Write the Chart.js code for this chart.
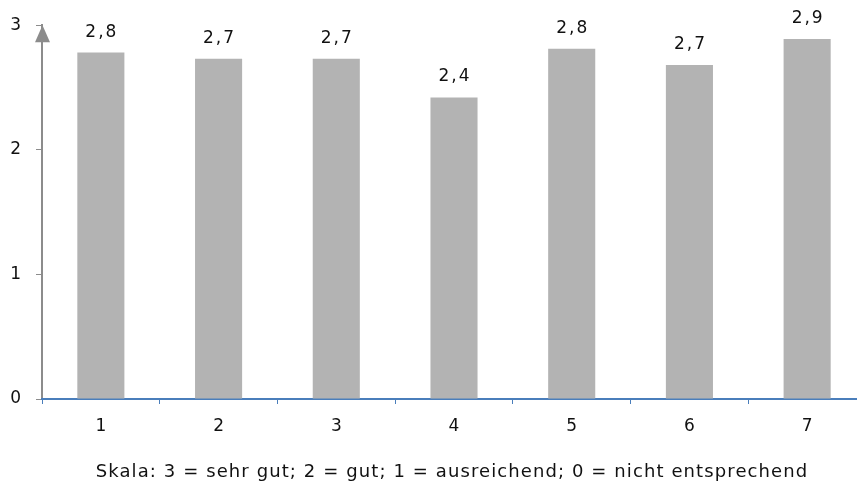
<!DOCTYPE html>
<html>
<head>
<meta charset="utf-8">
<script src="https://cdn.jsdelivr.net/npm/chart.js@4"></script>
<style>
    html, body { margin: 0; padding: 0; background: #fff; overflow: hidden; }
    #wrap { width: 866px; height: 484px; }
</style>
</head>
<body>
<div id="wrap"><canvas id="chart" width="866" height="484"></canvas></div>
<script>
// ===== DATA =====
const categories = ['1', '2', '3', '4', '5', '6', '7'];
const scores = [2.78, 2.73, 2.73, 2.42, 2.81, 2.68, 2.89];
const yTicks = [0, 1, 2, 3];
const caption = 'Skala: 3 = sehr gut; 2 = gut; 1 = ausreichend; 0 = nicht entsprechend';

const FONT = '"DejaVu Sans", Verdana, sans-serif';
const AXIS_GREY = '#8c8c8c';
const AXIS_BLUE = '#4a7ebb';

// ===== PLUGINS =====
// value labels above the bars, decimal comma
const barLabels = {
    id: 'barLabels',
    afterDatasetsDraw(chart) {
        const ctx = chart.ctx;
        const meta = chart.getDatasetMeta(0);
        ctx.save();
        ctx.font = '17px ' + FONT;
        ctx.fillStyle = '#111';
        ctx.textAlign = 'center';
        ctx.textBaseline = 'alphabetic';
        ctx.letterSpacing = '2px';
        meta.data.forEach((bar, i) => {
            const txt = scores[i].toFixed(1).replace('.', ',');
            ctx.fillText(txt, bar.x + 1, bar.y - 16);
        });
        ctx.restore();
    }
};

// arrow head on the y axis + scale caption
const axisExtras = {
    id: 'axisExtras',
    afterDraw(chart) {
        const ctx = chart.ctx;
        const area = chart.chartArea;
        const x = area.left + 0.5;
        ctx.save();
        ctx.fillStyle = AXIS_GREY;
        ctx.beginPath();
        ctx.moveTo(x, area.top);
        ctx.lineTo(x - 7.5, area.top + 17);
        ctx.lineTo(x + 7.5, area.top + 17);
        ctx.closePath();
        ctx.fill();

        ctx.font = '18px ' + FONT;
        ctx.fillStyle = '#111';
        ctx.textAlign = 'center';
        ctx.textBaseline = 'alphabetic';
        ctx.letterSpacing = '1.1px';
        ctx.fillText(caption, (area.left + area.right) / 2 - 2, 477);
        ctx.restore();
    }
};

// ===== CHART =====
const ctx = document.getElementById('chart');
const chart = new Chart(ctx, {
    type: 'bar',
    data: {
        labels: categories,
        datasets: [{
            data: scores,
            backgroundColor: '#b3b3b3',
            borderWidth: 0,
            categoryPercentage: 1,
            barPercentage: 0.4
        }]
    },
    options: {
        responsive: false,
        animation: false,
        layout: {
            padding: { top: 25, left: 0, right: 0, bottom: 0 }
        },
        plugins: {
            legend: { display: false },
            tooltip: { enabled: false }
        },
        scales: {
            y: {
                min: 0,
                max: 3,
                afterFit: (scale) => { scale.width = 42; },
                afterBuildTicks: (scale) => {
                    scale.ticks = yTicks.map(v => ({ value: v }));
                },
                grid: {
                    drawOnChartArea: false,
                    drawTicks: true,
                    tickLength: 6,
                    color: AXIS_GREY
                },
                border: { color: AXIS_GREY, width: 2 },
                ticks: {
                    color: '#111',
                    padding: 15,
                    font: { family: FONT, size: 17 }
                }
            },
            x: {
                afterFit: (scale) => { scale.height = 85; },
                grid: {
                    offset: true,
                    drawOnChartArea: false,
                    drawTicks: true,
                    tickLength: 5,
                    color: AXIS_BLUE
                },
                border: { color: AXIS_BLUE, width: 2 },
                ticks: {
                    color: '#111',
                    padding: 12,
                    font: { family: FONT, size: 17 }
                }
            }
        }
    },
    plugins: [barLabels, axisExtras]
});
</script>
</body>
</html>
